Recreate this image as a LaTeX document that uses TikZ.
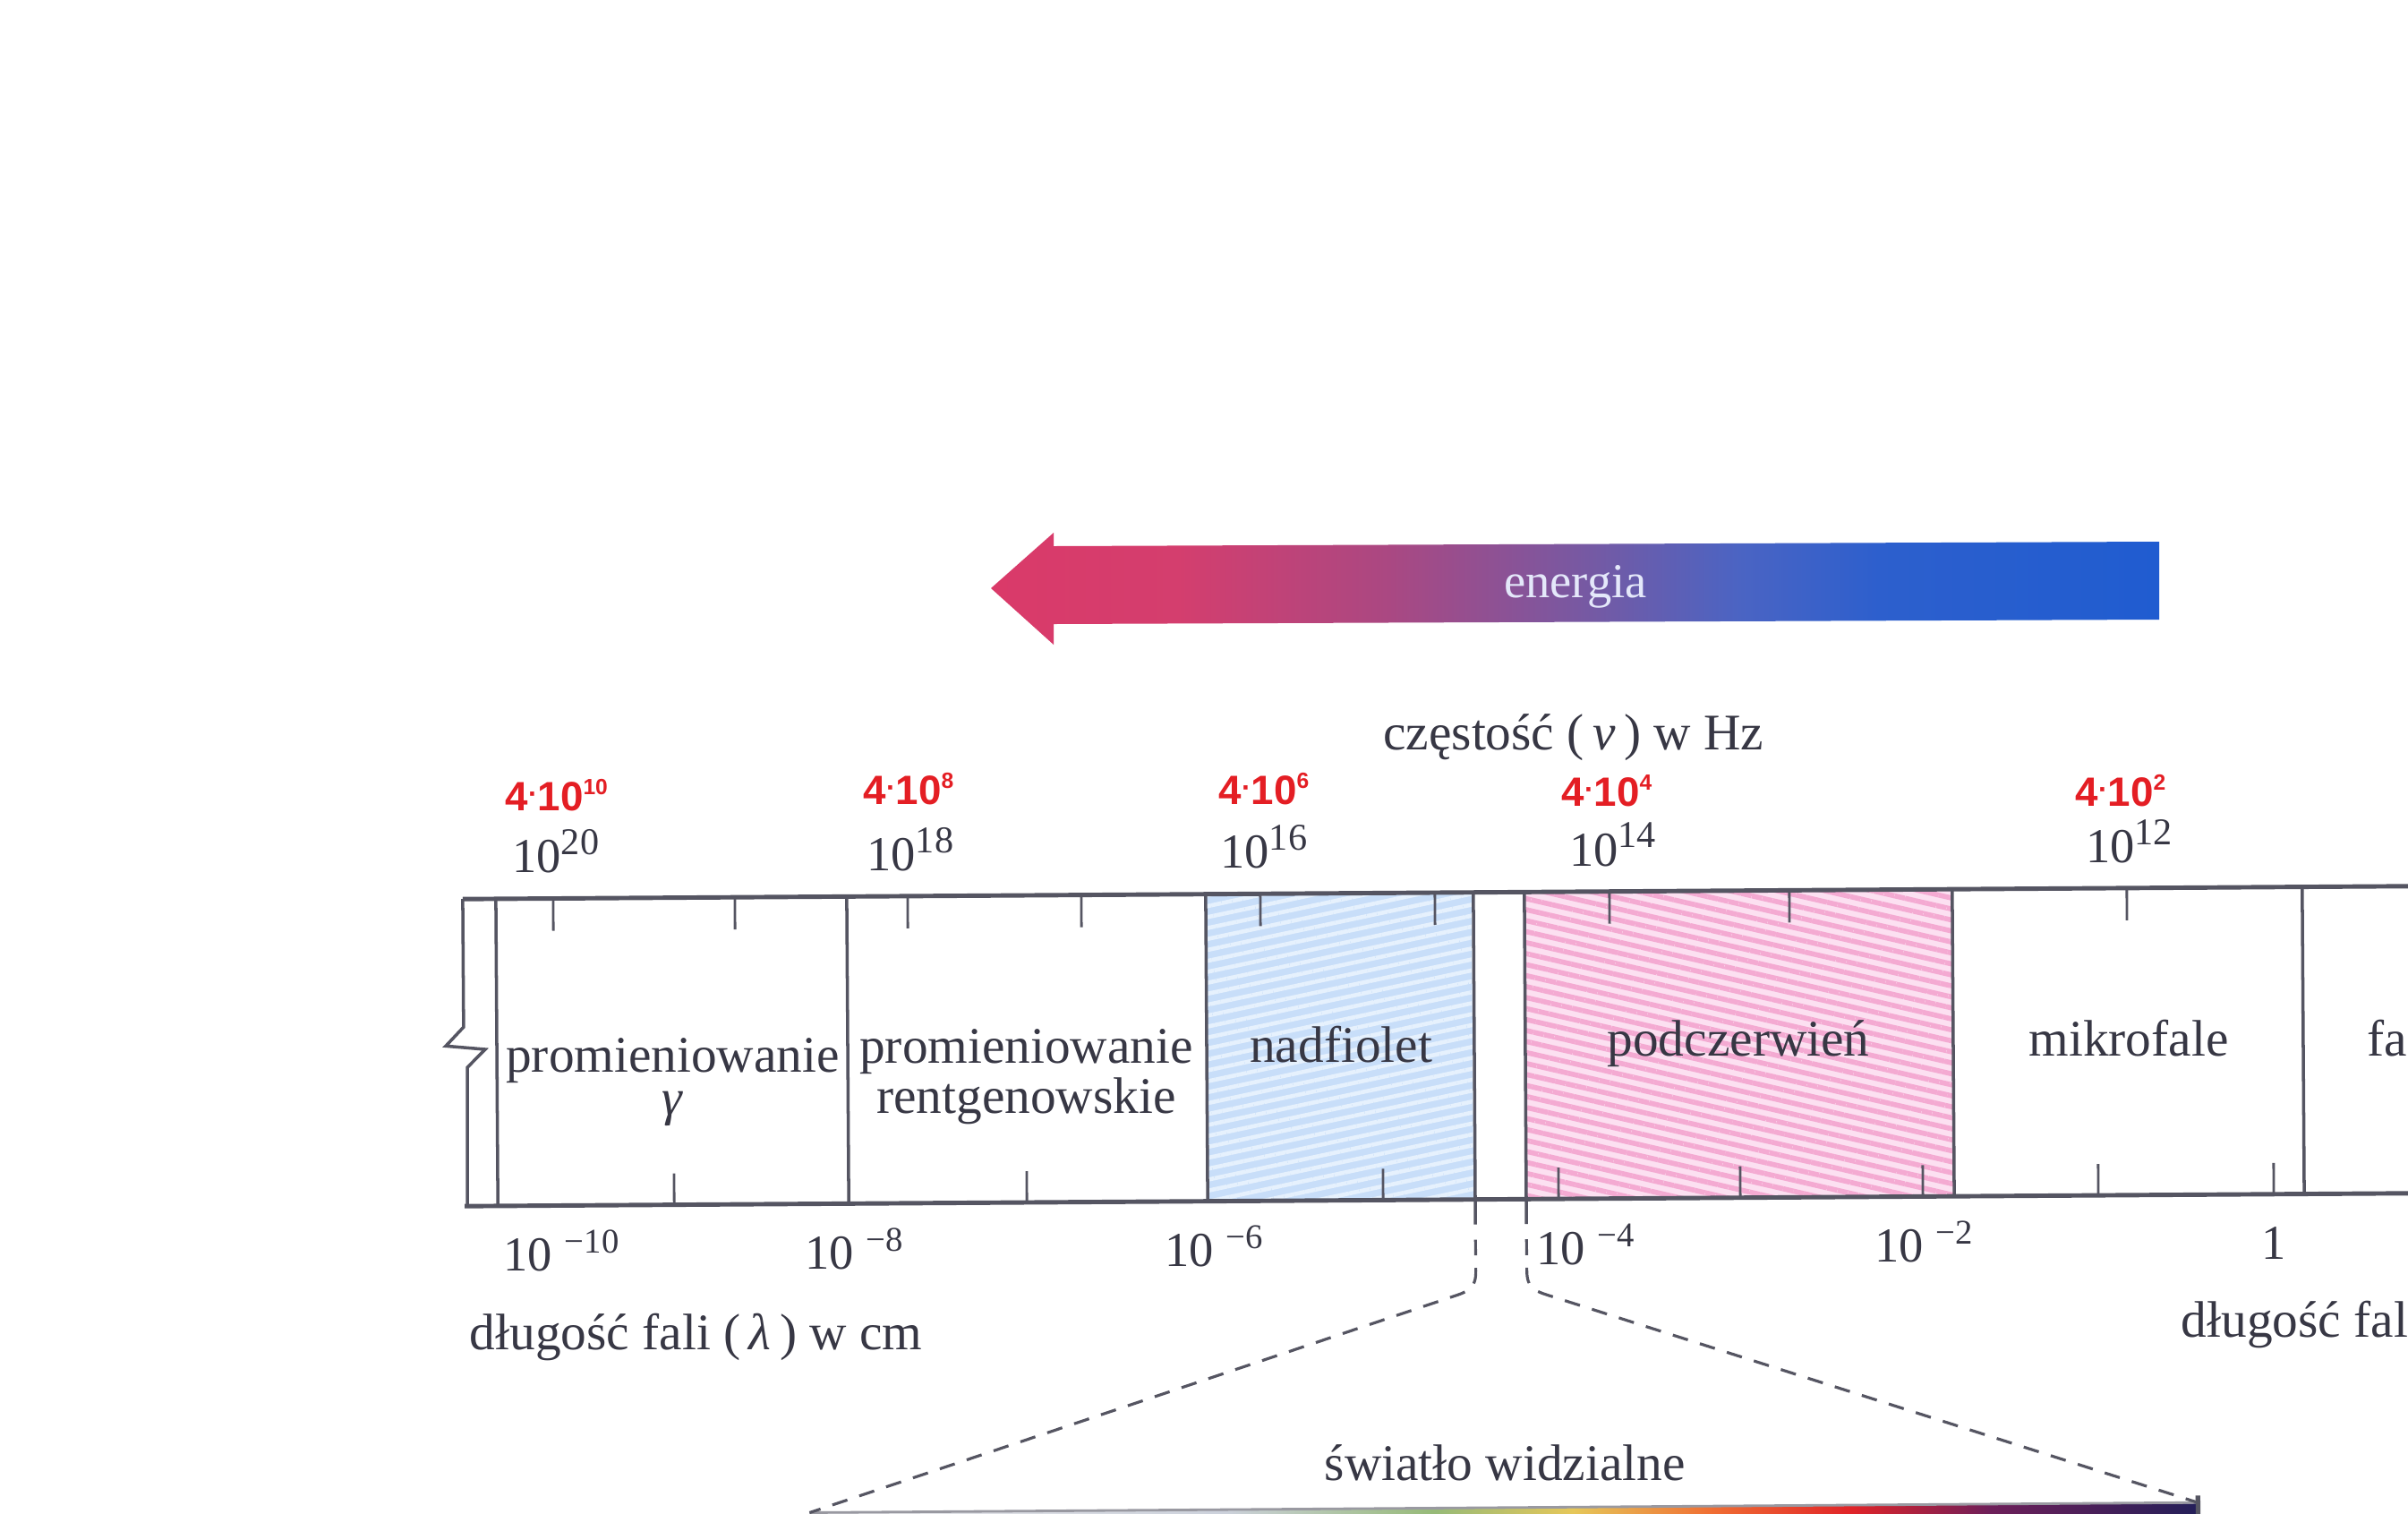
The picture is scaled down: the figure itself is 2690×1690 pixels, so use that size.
\documentclass[tikz,border=0pt]{standalone}
\usepackage{fontspec}
\setmainfont{Liberation Serif}
\newfontfamily\czerwonyfont{Liberation Sans}
\usetikzlibrary{patterns.meta}

\definecolor{linia}{RGB}{85,85,98}
\definecolor{tekst}{RGB}{55,55,68}
\definecolor{czerwien}{RGB}{228,30,36}
\definecolor{uvtlo}{RGB}{200,222,249}
\definecolor{uvpasy}{RGB}{230,241,253}
\definecolor{irtlo}{RGB}{252,224,241}
\definecolor{irpasy}{RGB}{244,170,210}
\definecolor{energiatekst}{RGB}{228,232,250}

\pgfdeclarehorizontalshading{energiagrad}{100bp}{rgb(0bp)=(0.855,0.227,0.412); rgb(25bp)=(0.855,0.227,0.412); rgb(33bp)=(0.831,0.243,0.431); rgb(42bp)=(0.667,0.282,0.510); rgb(51bp)=(0.451,0.353,0.647); rgb(57bp)=(0.294,0.392,0.765); rgb(63bp)=(0.176,0.373,0.804); rgb(75bp)=(0.125,0.361,0.816); rgb(100bp)=(0.125,0.361,0.816)}
\pgfdeclarehorizontalshading{widmo}{100bp}{rgb(0bp)=(0.92,0.92,0.93); rgb(25bp)=(0.92,0.92,0.93); rgb(40bp)=(0.80,0.82,0.86); rgb(47.5bp)=(0.59,0.73,0.47); rgb(52.5bp)=(0.90,0.78,0.35); rgb(57.5bp)=(0.94,0.43,0.2); rgb(62.5bp)=(0.88,0.14,0.16); rgb(67.5bp)=(0.43,0.12,0.35); rgb(75bp)=(0.14,0.12,0.35); rgb(100bp)=(0.14,0.12,0.35)}

\newcommand{\czw}[1]{4{\fontsize{9}{9}\selectfont\raisebox{2.2pt}{·}}10\raisebox{5pt}{\fontsize{7}{7}\selectfont #1}}
\newcommand{\wyk}[1]{10\raisebox{5.7pt}{\fontsize{12}{12}\selectfont #1}}
\newcommand{\wykm}[1]{10\hspace{4pt}\raisebox{5.7pt}{\fontsize{11}{11}\selectfont −#1}}

\tikzset{
	ramka/.style={draw=linia, line width=1.4pt},
	kreska/.style={draw=linia, line width=1pt},
	podzialka/.style={draw=linia, line width=0.8pt},
	przerywana/.style={draw=linia, line width=0.9pt, dash pattern=on 5pt off 4pt},
}

\begin{document}
\begin{tikzpicture}[x=0.01cm, y=-0.01cm]
		\useasboundingbox (0,0) rectangle (2690,1690);
		\clip (0,0) rectangle (2690,1690);
		\fill[white] (0,0) rectangle (2690,1690);
		
		% strzalka energii
		\shade[shading=energiagrad] (1107,657) -- (1177,595) -- (1177,610) -- (2412,605) -- (2412,692) -- (1177,697) -- (1177,720) -- cycle;
		\node[font=\fontsize{15.5}{15.5}\selectfont, text=energiatekst, anchor=base, inner sep=0pt] (energia) at (1760,667) {energia};
		
		\begin{scope}[every node/.style={anchor=base west, inner sep=0pt, text=czerwien,
				font=\czerwonyfont\bfseries\fontsize{13}{13}\selectfont}]
			\node (c20) at (564,905) {\czw{10}};
			\node (c18) at (964,898) {\czw{8}};
			\node (c16) at (1361,898) {\czw{6}};
			\node (c14) at (1744,900) {\czw{4}};
			\node (c12) at (2318,900) {\czw{2}};
		\end{scope}
		
		\begin{scope}[rotate around={0.38:(1600,1170)}]
			\path[fill=uvtlo, postaction={pattern={Lines[angle=12,distance=3.4pt,line width=1.3pt]}, pattern color=uvpasy}] (1348,997) rectangle (1645,1340);
			\path[fill=irtlo, postaction={pattern={Lines[angle=-13,distance=3.4pt,line width=1.6pt]}, pattern color=irpasy}] (1704,997) rectangle (2182,1340);
			
			\draw[ramka] (518,997) -- (2700,997);
			\draw[ramka] (518,1340) -- (2700,1340);
			\draw[kreska] (518,997) -- (518,1140) -- (498,1161) -- (542,1165) -- (522,1185) -- (521,1340);
			\foreach \x in {555,947,1348,2182,2573}
				\draw[kreska] (\x,997) -- (\x,1340);
			\coordinate (uvdol) at (1647,1368);
			\coordinate (irdol) at (1704,1368);
			\draw[kreska] (1647,997) -- (uvdol);
			\draw[kreska] (1704,997) -- (irdol);
			\foreach \x in {619,822,1015,1209,1409,1604,1799,2000,2377}
				\draw[podzialka] (\x,997) -- (\x,1033);
			\foreach \x in {752,1146,1544,1740,1943,2147,2343,2539}
				\draw[podzialka] (\x,1340) -- (\x,1305);
			
			% swiatlo widzialne
			\coordinate (widmoL) at (901,1685);
			\coordinate (widmoP) at (2452,1684);
			\coordinate (uvprzer) at (1647,1385);
			\coordinate (irprzer) at (1704,1385);
			\shade[shading=widmo] (widmoL) rectangle (2452,1700);
			\draw[linia!60, line width=0.8pt] (widmoL) -- (widmoP);
			\draw[linia, line width=1.5pt] (2452,1676) -- (2452,1700);
			\draw[przerywana] (uvprzer) -- (1647,1420) .. controls (1647,1438) and (1640,1442) .. (1625,1447) -- (widmoL);
			\draw[przerywana] (irprzer) -- (1704,1420) .. controls (1704,1438) and (1711,1442) .. (1726,1447) -- (widmoP);
			
			\begin{scope}[every node/.style={anchor=base, inner sep=0pt, text=tekst,
					font=\fontsize{16.3}{13.8}\selectfont}]
				\node[align=center] (gamma) at (751,1240) {promieniowanie\\\textit{γ}};
				\node[align=center] (rtg) at (1146,1240) {promieniowanie\\rentgenowskie};
				\node (uv) at (1498,1186) {nadfiolet};
				\node (ir) at (1942,1182) {podczerwień};
				\node (mikro) at (2378,1185) {mikrofale};
				\node[anchor=base west] (radio) at (2644,1186) {fale radiowe};
				\node (widzialne) at (1678,1654) {światło widzialne};
				\node (czest) at (1760,839) {częstość (\,\textit{ν}\,) w Hz};
				\node[anchor=base west] (dlug) at (522,1500) {długość fali (\,\textit{λ}\,) w cm};
				\node[anchor=base west] (dlug2) at (2434,1499) {długość fali (\,\textit{λ}\,) w cm};
			\end{scope}
			
			\begin{scope}[every node/.style={anchor=base west, inner sep=0pt, text=tekst,
					font=\fontsize{15.5}{16}\selectfont}]
				\node (f20) at (573,968) {\wyk{20}};
				\node (f18) at (969,968) {\wyk{18}};
				\node (f16) at (1364,968) {\wyk{16}};
				\node (f14) at (1754,968) {\wyk{14}};
				\node (f12) at (2331,968) {\wyk{12}};
				\node (l10) at (560,1413) {\wykm{10}};
				\node (l8) at (897,1413) {\wykm{8}};
				\node (l6) at (1299,1413) {\wykm{6}};
				\node (l4) at (1714,1413) {\wykm{4}};
				\node (l2) at (2092,1413) {\wykm{2}};
				\node[anchor=base] (l0) at (2539,1413) {1};
			\end{scope}
		\end{scope}
\end{tikzpicture}
\end{document}
